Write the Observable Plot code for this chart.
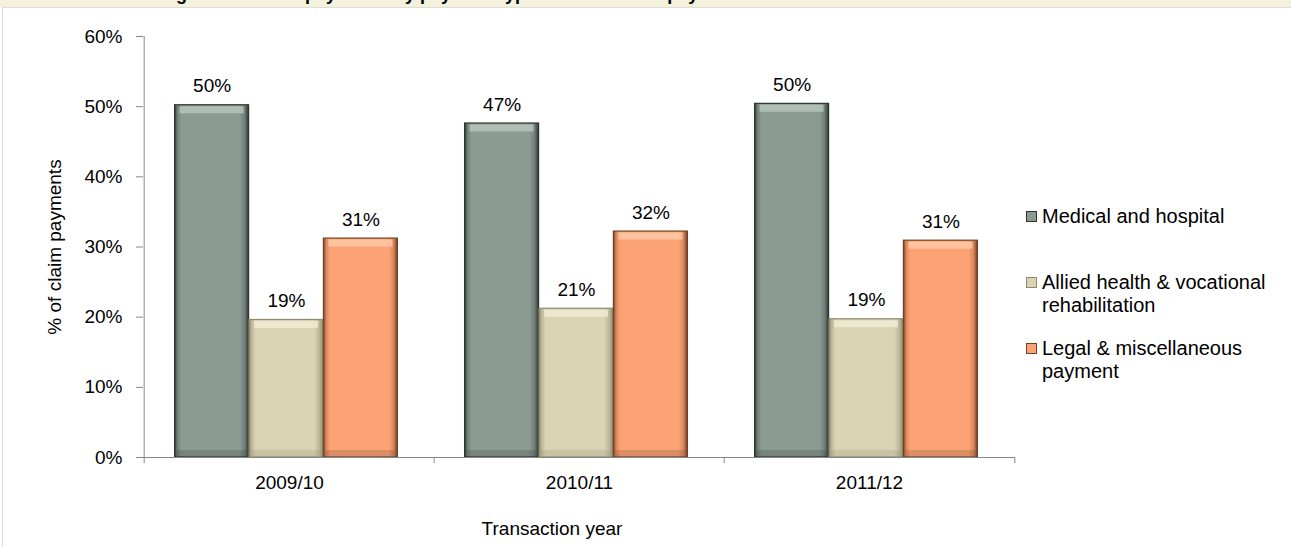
<!DOCTYPE html>
<html>
<head>
<meta charset="utf-8">
<script src="https://cdn.jsdelivr.net/npm/d3@7"></script>
<script src="https://cdn.jsdelivr.net/npm/@observablehq/plot@0.6"></script>
<style>
  html, body { margin: 0; padding: 0; background: #fff; }
  body { width: 1291px; height: 547px; position: relative; overflow: hidden; font-family: "Liberation Sans", Arial, sans-serif; }
  #titlebar { position: absolute; left: 0; top: 0; width: 1291px; height: 7px; background: #f4f1dd; overflow: hidden; }
  #titlebar span { position: absolute; left: 160px; top: -15px; font-weight: bold; font-size: 18px; line-height: 18px; white-space: nowrap; color: #000; }
  #box { position: absolute; left: 2px; top: 7px; width: 1300px; height: 560px; border: 1px solid #d9dddd; box-sizing: border-box; }
  #chart { position: absolute; left: 0; top: 8px; }
  #xlabel { position: absolute; top: 518px; left: 452px; width: 200px; text-align: center; font-size: 19px; color: #000; }
  #legend { position: absolute; left: 1026px; top: 0; }
  .item { position: absolute; left: 0; width: 265px; display: flex; align-items: flex-start; }
  .sw { width: 11px; height: 11px; margin-top: 6px; margin-right: 5px; box-sizing: border-box; border: 1px solid; flex: none; }
  .txt { font-size: 20px; line-height: 23px; color: #000; width: 245px; }
</style>
</head>
<body>
<div id="titlebar"><span id="title"></span></div>
<div id="box"></div>
<svg width="0" height="0" style="position:absolute">
  <defs id="defs"></defs>
</svg>
<div id="chart"></div>
<div id="xlabel"></div>
<div id="legend"></div>
<script>
// ---- data ----
const titleText = "Figure 29: Claim payments by payment type as a % of total payments";
const years = ["2009/10", "2010/11", "2011/12"];
const seriesNames = ["Medical and hospital", "Allied health & vocational rehabilitation", "Legal & miscellaneous payment"];
const medicalValues = [50.2, 47.6, 50.4];
const alliedValues = [19.6, 21.2, 19.7];
const legalValues = [31.2, 32.2, 30.9];
const medicalLabels = [50, 47, 50];
const alliedLabels = [19, 21, 19];
const legalLabels = [31, 32, 31];
const yTicks = [0, 10, 20, 30, 40, 50, 60];
const yLabel = "% of claim payments";
const xLabel = "Transaction year";

// ---- styles ----
const styles = [
  {base: "#8b9a92", hi: "#b9c7bf", edge: "#2c3631", mid: "#6f7d76"},
  {base: "#d9d4b4", hi: "#efecd6", edge: "#8f8a6d", mid: "#bcb797"},
  {base: "#fca375", hi: "#fec9a6", edge: "#6e4129", mid: "#d9855a"}
];
const values = [medicalValues, alliedValues, legalValues];
const labels = [medicalLabels, alliedLabels, legalLabels];

document.getElementById("title").textContent = titleText;
document.getElementById("xlabel").textContent = xLabel;

// gradients
const defs = document.getElementById("defs");
styles.forEach((s, k) => {
  defs.innerHTML += `<linearGradient id="grad${k}" x1="0" x2="1" y1="0" y2="0">
    <stop offset="0" stop-color="${s.edge}"/>
    <stop offset="0.035" stop-color="${s.mid}"/>
    <stop offset="0.09" stop-color="${s.base}"/>
    <stop offset="0.88" stop-color="${s.base}"/>
    <stop offset="0.95" stop-color="${s.mid}"/>
    <stop offset="1" stop-color="${s.edge}"/>
  </linearGradient>`;
});

const W = 1291, H = 539, ML = 143, MR = 276, MT = 28, MB = 90;
const padInner = 0.744;
const step = (W - ML - MR) / years.length;
const bw = step * (1 - padInner);
const shift = -3;
const axisColor = "#868686";

const marks = [];
values.forEach((vals, k) => {
  const rows = years.map((yr, i) => ({year: yr, value: vals[i], label: labels[k][i] + "%"}));
  const dx = (k - 1) * bw + shift;
  const s = styles[k];
  marks.push(Plot.barY(rows, {x: "year", y: "value", dx, fill: `url(#grad${k})`, stroke: s.edge, strokeWidth: 1.2}));
  marks.push(Plot.tickY(rows, {x: "year", y: "value", dx, dy: 4.5, strokeWidth: 7, stroke: s.hi, strokeOpacity: 0.8, insetLeft: 5, insetRight: 5}));
  marks.push(Plot.tickY(rows, {x: "year", y: () => 0, dx, dy: -4, strokeWidth: 7, stroke: s.edge, strokeOpacity: 0.22, insetLeft: 2, insetRight: 2}));
  marks.push(Plot.text(rows, {x: "year", y: "value", text: "label", dx, dy: -19, fontSize: 19, fill: "#000"}));
});

const chart = Plot.plot({
  width: W, height: H,
  marginLeft: ML, marginRight: MR, marginTop: MT, marginBottom: MB,
  style: {fontFamily: '"Liberation Sans", Arial, sans-serif', fontSize: "19px", color: "#000", background: "transparent", overflow: "visible"},
  x: {domain: years, paddingInner: padInner, paddingOuter: padInner / 2, label: null},
  y: {domain: [0, 60], label: null},
  marks: [
    ...marks,
    Plot.ruleY([0], {stroke: axisColor}),
    Plot.ruleX([years[0]], {x: d => d, dx: -step / 2, stroke: axisColor}),
    Plot.tickX(years, {x: d => d, dx: -step / 2, stroke: axisColor, insetTop: H - MT - MB, insetBottom: -6}),
    Plot.tickX([years[years.length - 1]], {x: d => d, dx: step / 2, stroke: axisColor, insetTop: H - MT - MB, insetBottom: -6}),
    Plot.axisX({tickSize: 0, tickPadding: 18, fontSize: 19, label: null}),
    Plot.axisY({ticks: yTicks, tickSize: 7, tickPadding: 14, stroke: axisColor, tickFormat: d => d + "%", fontSize: 19,
      label: yLabel, labelAnchor: "center", labelOffset: 96, labelArrow: "none"})
  ]
});
document.getElementById("chart").appendChild(chart);

// legend
const legend = document.getElementById("legend");
const legendTops = [205, 271, 337];
seriesNames.forEach((name, k) => {
  const s = styles[k];
  const it = document.createElement("div");
  it.className = "item";
  it.style.top = legendTops[k] + "px";
  it.innerHTML = `<div class="sw" style="background:${s.base};border-color:${s.edge}"></div><div class="txt"></div>`;
  it.querySelector(".txt").textContent = name;
  legend.appendChild(it);
});
</script>
</body>
</html>
